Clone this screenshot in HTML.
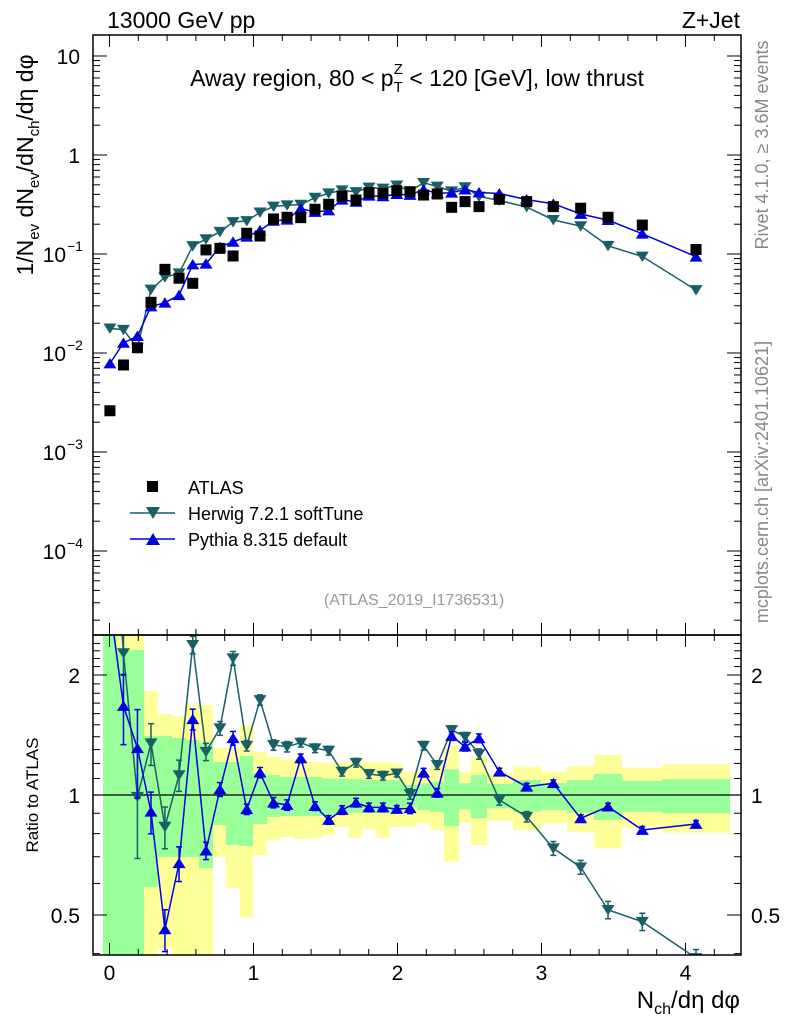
<!DOCTYPE html>
<html><head><meta charset="utf-8"><style>
body{margin:0;background:#fff;}
svg{display:block;font-family:"Liberation Sans",sans-serif;}
</style></head><body>
<svg id="c" width="786" height="1024" viewBox="0 0 786 1024" xmlns="http://www.w3.org/2000/svg">
<text x="107" y="28" font-size="23">13000 GeV pp</text>
<text x="740" y="28" font-size="23" text-anchor="end">Z+Jet</text>
<text x="417" y="86" font-size="23" text-anchor="middle">Away region, 80 &lt; p<tspan font-size="15" dy="6">T</tspan><tspan font-size="15" dx="-9" dy="-18">Z</tspan><tspan dy="12"> &lt; 120 [GeV], low thrust</tspan></text>
<text transform="translate(33,165) rotate(-90)" font-size="23" text-anchor="middle">1/N<tspan font-size="15" dy="6">ev</tspan><tspan dy="-6"> dN</tspan><tspan font-size="15" dy="6">ev</tspan><tspan dy="-6">/dN</tspan><tspan font-size="15" dy="6">ch</tspan><tspan dy="-6">/dη dφ</tspan></text>
<text transform="translate(768,145) rotate(-90)" font-size="18" fill="#888" text-anchor="middle">Rivet 4.1.0, ≥ 3.6M events</text>
<text transform="translate(768,482) rotate(-90)" font-size="18" fill="#888" text-anchor="middle">mcplots.cern.ch [arXiv:2401.10621]</text>
<text x="414" y="605" font-size="16" fill="#999" text-anchor="middle">(ATLAS_2019_I1736531)</text>
<text transform="translate(38,795) rotate(-90)" font-size="17" text-anchor="middle">Ratio to ATLAS</text>
<text x="740" y="1008" font-size="24" text-anchor="end">N<tspan font-size="16" dy="6">ch</tspan><tspan dy="-6">/dη dφ</tspan></text>
<g id="bands"></g><g id="ticks"></g><g id="marks"></g>
<rect x="93" y="35" width="648" height="600" fill="none" stroke="#000" stroke-width="1.5"/>
<rect x="93" y="635" width="648" height="320" fill="none" stroke="#000" stroke-width="1.5"/>
<g>
<rect x="147" y="481" width="11" height="11" fill="#000"/>
<text x="188" y="494" font-size="18">ATLAS</text>
<line x1="130" y1="513" x2="175" y2="513" stroke="#1a5e66" stroke-width="1.5"/>
<path d="M146,507 L160,507 L153,519 Z" fill="#1a5e66"/>
<text x="188" y="520" font-size="18">Herwig 7.2.1 softTune</text>
<line x1="130" y1="539" x2="175" y2="539" stroke="#0000e0" stroke-width="1.5"/>
<path d="M146,545 L160,545 L153,533 Z" fill="#0000e0"/>
<text x="188" y="546" font-size="18">Pythia 8.315 default</text>
</g>
</svg>
<script>
const xVals=[0.003,0.097,0.194,0.288,0.385,0.483,0.578,0.670,0.767,0.858,0.953,1.045,1.139,1.233,1.328,1.427,1.522,1.615,1.712,1.802,1.899,1.995,2.087,2.181,2.276,2.376,2.469,2.566,2.707,2.897,3.082,3.272,3.462,3.700,4.073];
const binEdges=[-0.045,0.052,0.142,0.240,0.337,0.434,0.531,0.622,0.719,0.809,0.906,0.997,1.094,1.184,1.281,1.378,1.476,1.566,1.663,1.753,1.851,1.948,2.038,2.135,2.226,2.323,2.427,2.510,2.622,2.802,2.997,3.177,3.365,3.559,3.837,4.309];
const atlasVals=[0.00261,0.00757,0.0113,0.0325,0.070,0.0569,0.0506,0.110,0.114,0.0955,0.162,0.152,0.226,0.235,0.233,0.283,0.318,0.385,0.351,0.416,0.410,0.436,0.426,0.394,0.404,0.296,0.338,0.301,0.357,0.338,0.301,0.290,0.235,0.196,0.111];
const herwigRatio=[6.8,2.27,0.99,1.348,0.833,1.122,2.38,1.284,1.47,2.203,1.329,1.731,1.335,1.322,1.353,1.31,1.292,1.144,1.205,1.129,1.118,1.133,1.006,1.329,1.189,1.456,1.40,1.267,0.972,0.882,0.735,0.659,0.515,0.481,0.39];
const pythiaRatio=[3.0,1.672,1.310,0.908,0.460,0.674,1.549,0.725,1.033,1.388,0.921,1.138,0.957,0.944,1.236,0.938,0.866,0.917,0.957,0.931,0.931,0.922,0.926,1.138,1.013,1.406,1.322,1.388,1.144,1.049,1.070,0.874,0.935,0.817,0.846];
const herwigErr=[0.1,0.12,0.3,0.12,0.12,0.09,0.05,0.05,0.04,0.04,0.03,0.03,0.03,0.03,0.025,0.025,0.025,0.025,0.025,0.025,0.025,0.02,0.03,0.025,0.025,0.025,0.025,0.03,0.03,0.03,0.04,0.04,0.05,0.05,0.05];
const pythiaErr=[0.1,0.2,0.25,0.12,0.12,0.1,0.06,0.05,0.04,0.04,0.03,0.03,0.03,0.03,0.025,0.025,0.025,0.025,0.025,0.025,0.025,0.02,0.03,0.025,0.025,0.025,0.025,0.025,0.02,0.02,0.02,0.02,0.02,0.02,0.02];
const yellowHi=[3,3,3,1.823,1.597,1.578,1.682,1.682,1.312,1.312,1.498,1.282,1.246,1.224,1.224,1.21,1.203,1.203,1.21,1.21,1.21,1.20,1.144,1.144,1.177,1.322,1.144,1.248,1.129,1.177,1.144,1.182,1.26,1.171,1.194];
const yellowLo=[0.3,0.3,0.3,0.3,0.413,0.3,0.3,0.3,0.699,0.584,0.494,0.707,0.771,0.785,0.776,0.78,0.794,0.831,0.78,0.82,0.78,0.831,0.832,0.849,0.817,0.68,0.852,0.749,0.862,0.817,0.849,0.809,0.737,0.830,0.804];
const greenHi=[3,2.31,2.31,1.406,1.406,1.39,1.374,1.35,1.21,1.21,1.253,1.135,1.122,1.11,1.11,1.11,1.10,1.097,1.097,1.09,1.09,1.09,1.059,1.07,1.08,1.16,1.07,1.122,1.066,1.09,1.07,1.09,1.129,1.086,1.095];
const greenLo=[0.3,0.3,0.3,0.588,0.699,0.699,0.699,0.656,0.841,0.749,0.745,0.846,0.881,0.886,0.886,0.886,0.89,0.901,0.901,0.90,0.90,0.91,0.935,0.917,0.908,0.836,0.921,0.874,0.926,0.908,0.917,0.903,0.866,0.908,0.9];
const xTickLabels=["0","1","2","3","4"];
const ratioTicks=[2,1,0.5];

const NS="http://www.w3.org/2000/svg";
const X=v=>109.5+144*v;
const Y=v=>155-99*Math.log10(v);
const R=r=>795-120*Math.log2(r);
const clampR=y=>Math.max(635,Math.min(955,y));
function mk(tag,attrs,parent){const e=document.createElementNS(NS,tag);for(const k in attrs)e.setAttribute(k,attrs[k]);parent.appendChild(e);return e;}
const bands=document.getElementById('bands'),ticks=document.getElementById('ticks'),marks=document.getElementById('marks');

for(let i=0;i<xVals.length;i++){
  const x0=Math.max(94,X(binEdges[i])),x1=X(binEdges[i+1]);
  const y1=clampR(R(yellowHi[i])),y2=clampR(R(yellowLo[i]));
  const b=mk('rect',{x:x0,y:y1,width:x1-x0,height:y2-y1,fill:'#ffff99'},bands);
  
  
}
for(let i=0;i<xVals.length;i++){
  const x0=Math.max(94,X(binEdges[i])),x1=X(binEdges[i+1]);
  const y1=clampR(R(greenHi[i])),y2=clampR(R(greenLo[i]));
  const b=mk('rect',{x:x0,y:y1,width:x1-x0,height:y2-y1,fill:'#99ff99'},bands);
  
  
}
mk('line',{x1:93,x2:741,y1:R(1),y2:R(1),stroke:'#000','stroke-width':1.2},bands);

for(let v=-0.1;v<=4.41;v+=0.1){
  const vv=Math.round(v*10)/10;const x=X(vv);if(x<93||x>741)continue;
  const major=Math.abs(vv-Math.round(vv))<1e-6;const L=major?12:6;
  if(!major&&Math.round(vv*10)%2!==0)continue;
  [[35,1],[635,-1],[635,1],[955,-1]].forEach(([y,d])=>mk('line',{x1:x,x2:x,y1:y,y2:y+d*L,stroke:'#000','stroke-width':1},ticks));
}
xTickLabels.forEach((t,i)=>{const e=mk('text',{x:X(i),y:980,'font-size':21,'text-anchor':'middle'},ticks);e.textContent=t;
  
  });
for(let d=-5;d<=1;d++){for(let m=1;m<10;m++){const v=m*Math.pow(10,d);const y=Y(v);if(y<35||y>635)continue;const L=m===1?14:7;
  mk('line',{x1:93,x2:93+L,y1:y,y2:y,stroke:'#000','stroke-width':1},ticks);
  mk('line',{x1:741,x2:741-L,y1:y,y2:y,stroke:'#000','stroke-width':1},ticks);}}
[[10,"10",null],[1,"1",null],[0.1,"10","−1"],[0.01,"10","−2"],[0.001,"10","−3"],[0.0001,"10","−4"]].forEach(([v,b,ex])=>{
  const e=mk('text',{x:ex?66:80,y:Y(v)+8,'font-size':21,'text-anchor':'end'},ticks);e.textContent=b;
  
  
  if(ex){const s=mk('text',{x:67,y:Y(v)-3,'font-size':14},ticks);s.textContent=ex;}
});
for(let r=0.4;r<=2.5;r+=0.1){const rr=Math.round(r*10)/10;const y=R(rr);if(y<635||y>955)continue;
  const major=(rr===0.5||rr===1||rr===2);const L=major?14:7;
  mk('line',{x1:93,x2:93+L,y1:y,y2:y,stroke:'#000','stroke-width':1},ticks);
  mk('line',{x1:741,x2:741-L,y1:y,y2:y,stroke:'#000','stroke-width':1},ticks);}
ratioTicks.forEach(r=>{
  const a=mk('text',{x:80,y:R(r)+8,'font-size':21,'text-anchor':'end'},ticks);a.textContent=String(r);
  
  
  const b=mk('text',{x:751,y:R(r)+8,'font-size':21},ticks);b.textContent=String(r);
  
  
});

function tri(x,y,down,col,g,s){const h=s;const d=down?`M${x-h},${y-h*0.75} L${x+h},${y-h*0.75} L${x},${y+h*0.85} Z`:`M${x-h},${y+h*0.75} L${x+h},${y+h*0.75} L${x},${y-h*0.85} Z`;return mk('path',{d:d,fill:col},g);}

const defs=mk('defs',{},document.getElementById('c'));
const cp=mk('clipPath',{id:'rclip'},defs);mk('rect',{x:93,y:635,width:648,height:320},cp);
const rg=mk('g',{'clip-path':'url(#rclip)'},marks);
const tg=mk('g',{},marks);

function series(ratio,err,col,down,name){
  const pts=xVals.map((x,i)=>[X(x),Y(atlasVals[i]*ratio[i])]);
  const pl=mk('polyline',{points:pts.map(p=>p.join(',')).join(' '),fill:'none',stroke:col,'stroke-width':1.5},tg);
  
  
  pts.forEach((p,i)=>{const m=tri(p[0],p[1],down,col,tg,6.5);
    
    });
  const rp=xVals.map((x,i)=>[X(x),R(ratio[i])]);
  const rl=mk('polyline',{points:rp.map(p=>p.join(',')).join(' '),fill:'none',stroke:col,'stroke-width':1.5},rg);
  
  
  rp.forEach((p,i)=>{
    const y1=R(ratio[i]*(1+err[i])),y2=R(ratio[i]*(1-err[i]));
    mk('line',{x1:p[0],x2:p[0],y1:y1,y2:y2,stroke:col,'stroke-width':1.5},rg);
    mk('line',{x1:p[0]-3,x2:p[0]+3,y1:y1,y2:y1,stroke:col,'stroke-width':1.5},rg);
    mk('line',{x1:p[0]-3,x2:p[0]+3,y1:y2,y2:y2,stroke:col,'stroke-width':1.5},rg);
    const m=tri(p[0],p[1],down,col,rg,6.5);
    
    
  });
}
series(herwigRatio,herwigErr,'#1a5e66',true,'herwig');
series(pythiaRatio,pythiaErr,'#0000e0',false,'pythia');
atlasVals.forEach((v,i)=>{const r=mk('rect',{x:X(xVals[i])-5.5,y:Y(v)-5.5,width:11,height:11,fill:'#000'},tg);
  
  });
</script>
</body></html>
